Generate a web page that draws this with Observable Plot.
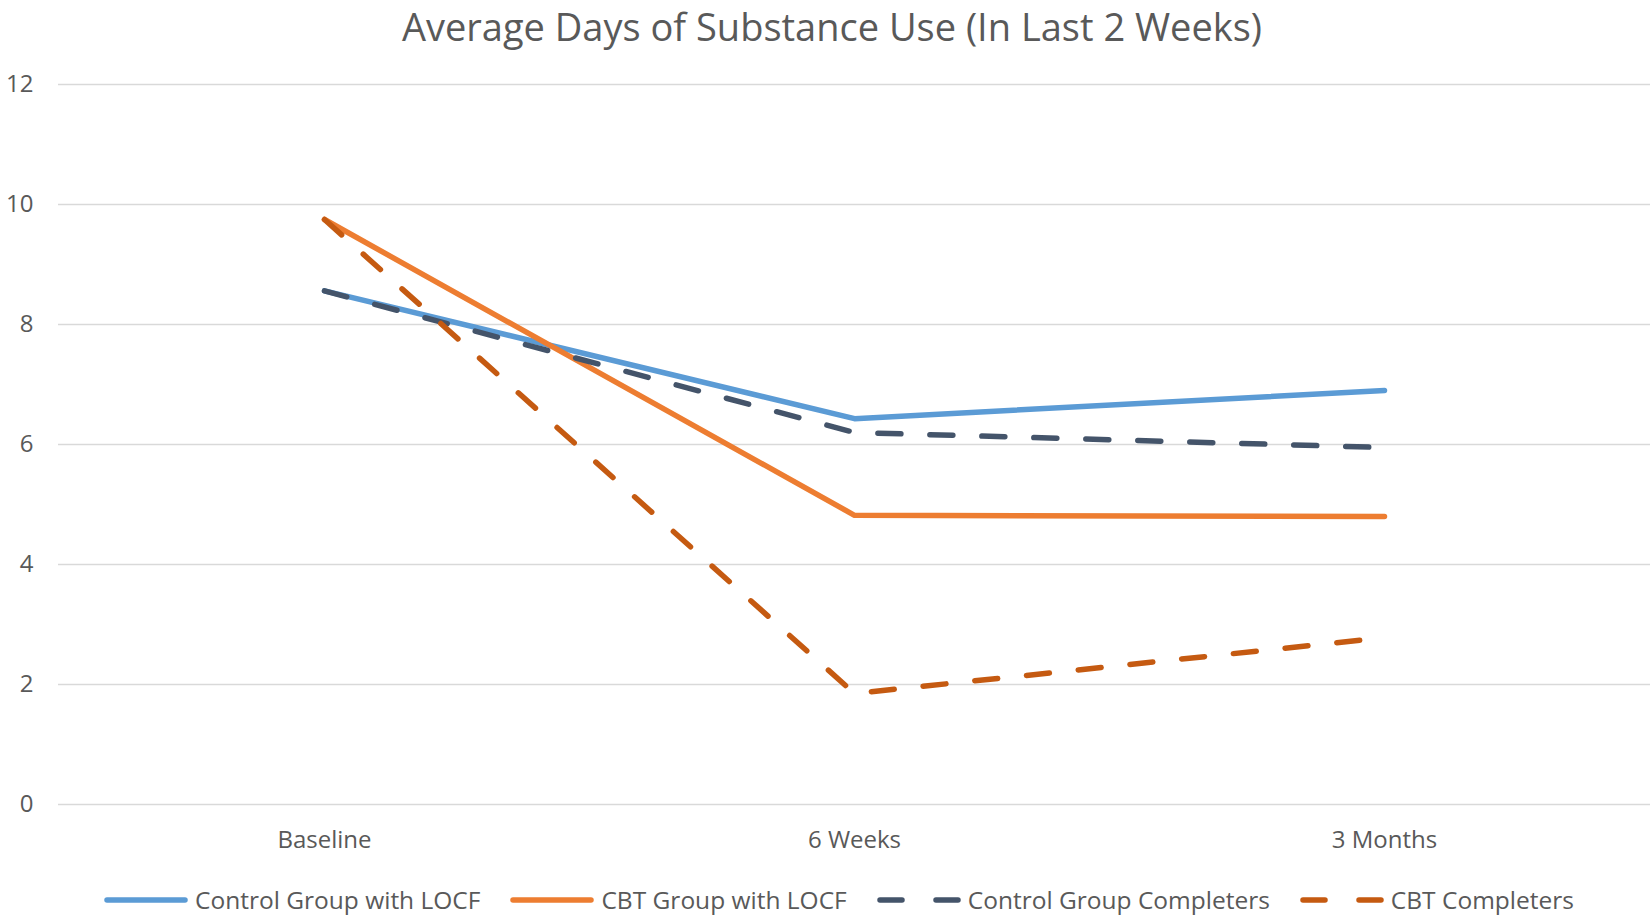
<!DOCTYPE html>
<html>
<head>
<meta charset="utf-8">
<script src="https://cdn.jsdelivr.net/npm/d3@7"></script>
<script src="https://cdn.jsdelivr.net/npm/@observablehq/plot@0.6"></script>
<style>
  html, body { margin: 0; padding: 0; background: #ffffff; }
  body { width: 1652px; height: 921px; overflow: hidden; font-family: "Open Sans", sans-serif; color: #595959; }
  #title { height: 50px; line-height: 52px; text-align: center; font-size: 38px; color: #595959; padding-left: 12px; white-space: nowrap; }
  #chart svg { display: block; }
  #legend { display: flex; justify-content: center; align-items: center; height: 51px; padding-left: 26px; padding-top: 8px; box-sizing: border-box; font-size: 24.5px; color: #595959; white-space: nowrap; }
  .item { display: flex; align-items: center; margin: 0 15px; }
  .item svg { margin-right: 7px; }
</style>
</head>
<body>
<div id="title">Average Days of Substance Use (In Last 2 Weeks)</div>
<div id="chart"></div>
<div id="legend"></div>
<script>
// ---- Data ----
const categories = ["Baseline", "6 Weeks", "3 Months"];
const seriesNames = ["Control Group with LOCF", "CBT Group with LOCF", "Control Group Completers", "CBT Completers"];
const controlLOCF = [8.56, 6.43, 6.90];
const cbtLOCF = [9.75, 4.82, 4.80];
const controlCompleters = [8.56, 6.20, 5.95];
const cbtCompleters = [9.75, 1.85, 2.78];
const yTicks = [0, 2, 4, 6, 8, 10, 12];

// ---- Styles ----
const seriesColors = ["#5B9BD5", "#ED7D31", "#44546A", "#C55A11"];
const seriesDash = [null, null, "23,29", "23,29"];
const seriesValues = [controlLOCF, cbtLOCF, controlCompleters, cbtCompleters];

const toRows = (vals, name) => categories.map((c, i) => ({period: c, value: vals[i], series: name}));

const lineMarks = seriesValues.map((vals, k) =>
  Plot.line(toRows(vals, seriesNames[k]), {
    x: "period", y: "value",
    stroke: seriesColors[k], strokeWidth: 5.5,
    strokeLinecap: "round", strokeLinejoin: "round",
    strokeDasharray: seriesDash[k] || undefined
  })
);

const chart = Plot.plot({
  width: 1652,
  height: 820,
  marginLeft: 58,
  marginRight: 2,
  marginTop: 34,
  marginBottom: 66,
  style: {fontFamily: "Open Sans, sans-serif", fontSize: "24px", color: "#595959", background: "#ffffff", overflow: "visible"},
  x: {type: "point", domain: categories, padding: 0.5, label: null},
  y: {domain: [0, 12], label: null},
  marks: [
    Plot.gridY(yTicks, {stroke: "#d9d9d9", strokeOpacity: 1, strokeWidth: 1.5}),
    Plot.axisY(yTicks, {tickSize: 0, tickPadding: 25, label: null, fill: "#595959", tickFormat: d => String(d)}),
    Plot.axisX({tickSize: 0, tickPadding: 26, label: null, fill: "#595959"}),
    ...lineMarks
  ]
});
document.getElementById("chart").appendChild(chart);

// ---- Legend ----
const legend = document.getElementById("legend");
seriesNames.forEach((name, k) => {
  const item = document.createElement("div");
  item.className = "item";
  const ns = "http://www.w3.org/2000/svg";
  const sw = document.createElementNS(ns, "svg");
  sw.setAttribute("width", 84);
  sw.setAttribute("height", 12);
  const ln = document.createElementNS(ns, "line");
  ln.setAttribute("x1", 3); ln.setAttribute("x2", 81);
  ln.setAttribute("y1", 6); ln.setAttribute("y2", 6);
  ln.setAttribute("stroke", seriesColors[k]);
  ln.setAttribute("stroke-width", 5.5);
  ln.setAttribute("stroke-linecap", "round");
  if (seriesDash[k]) ln.setAttribute("stroke-dasharray", "22,34");
  sw.appendChild(ln);
  item.appendChild(sw);
  const t = document.createElement("span");
  t.textContent = name;
  item.appendChild(t);
  legend.appendChild(item);
});
</script>
</body>
</html>
